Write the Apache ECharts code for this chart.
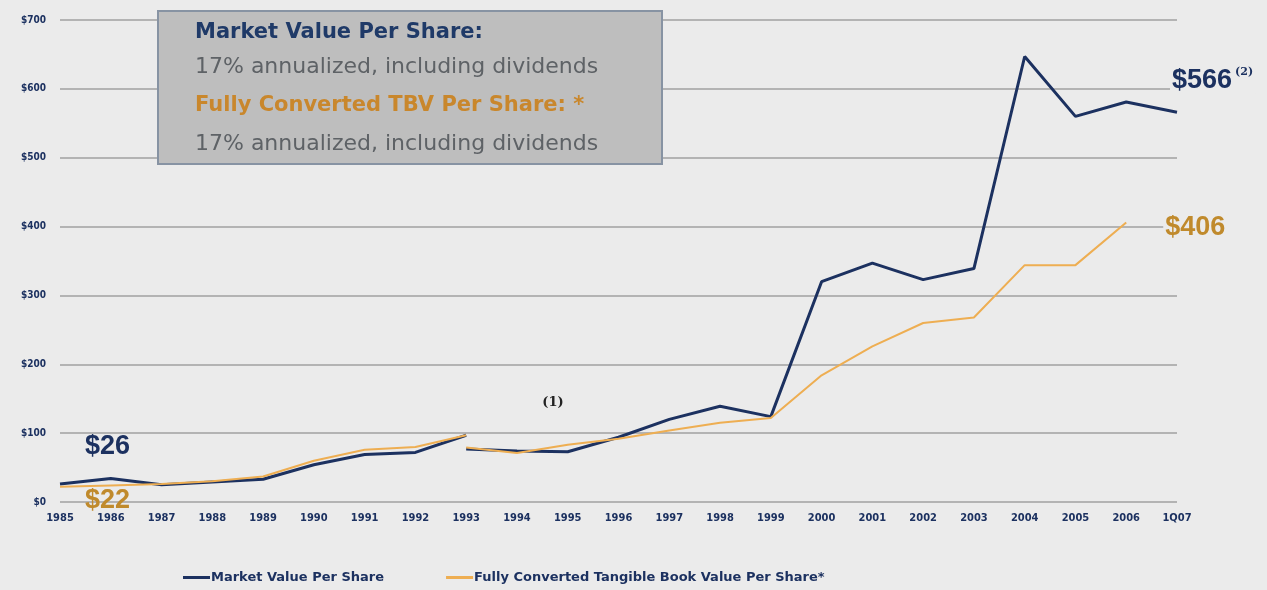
<!DOCTYPE html>
<html>
<head>
<meta charset="utf-8">
<script src="https://cdn.jsdelivr.net/npm/echarts@6/dist/echarts.min.js"></script>
<style>
html,body{margin:0;padding:0;background:#ebebeb;}
#chart{width:1267px;height:590px;}
</style>
</head>
<body>
<div id="chart"></div>
<script>
const categories = ['1985','1986','1987','1988','1989','1990','1991','1992','1993','1994','1995','1996','1997','1998','1999','2000','2001','2002','2003','2004','2005','2006','1Q07'];
const yTicks = [0,100,200,300,400,500,600,700];
// Market value per share: 1985-1993, then restated series 1993-1Q07
const marketPre1993 = [26,34,25,29,33,54,69,72,97];
const marketPost1993 = [77,74,73,94,120,139,124,320,347,323,339,647,560,581,566];
// Fully converted TBV per share: 1985-1993, then 1993-2006
const tbvPre1993 = [22,24,26,30,37,60,76,80,97];
const tbvPost1993 = [79,71,83,92,104,115,122,184,226,260,268,344,344,406];

const NAVY = '#1c3160';
const ORANGE = '#eeae52';
const ORANGE_TXT = '#c08a2c';
const BG = '#ebebeb';
const MV = 'Market Value Per Share';
const TBV = 'Fully Converted Tangible Book Value Per Share*';
const NARROW = '"DejaVu Sans Condensed", "Liberation Sans Narrow", "DejaVu Sans", sans-serif';

function pad(arr, before, total){
  const out = [];
  for (let i=0;i<total;i++){
    const j = i - before;
    out.push(j>=0 && j<arr.length ? arr[j] : null);
  }
  return out;
}
const N = categories.length;
const breakIdx = categories.indexOf('1993');

function withLabel(data, idx, label){
  return data.map((v,i)=> i===idx ? {value:v, label:label} : v);
}

const bigFont = {fontFamily:'"Liberation Sans", Arial, sans-serif', fontWeight:'bold', fontSize:27};

const mvA = withLabel(pad(marketPre1993,0,N), 0, Object.assign({show:true, position:'right', offset:[20,-38], color:NAVY, formatter:'$'+marketPre1993[0]}, bigFont));
const mvB = withLabel(pad(marketPost1993, breakIdx, N), N-1, {show:true, position:'right', offset:[-12,-32], backgroundColor:BG, padding:[0,2,0,2],
  formatter:'{a|$'+marketPost1993[marketPost1993.length-1]+'}{b|(2)}',
  rich:{a:Object.assign({color:NAVY}, bigFont), b:{color:NAVY, fontFamily:'DejaVu Serif', fontWeight:'bold', fontSize:11, verticalAlign:'top', padding:[0,0,14,3]}}});
const tbA = withLabel(pad(tbvPre1993,0,N), 0, Object.assign({show:true, position:'right', offset:[20,14], color:ORANGE_TXT, formatter:'$'+tbvPre1993[0]}, bigFont));
const lastTb = breakIdx + tbvPost1993.length - 1;
const tbB = withLabel(pad(tbvPost1993, breakIdx, N), lastTb, Object.assign({show:true, position:'right', offset:[32,5], color:ORANGE_TXT, backgroundColor:BG, padding:[0,2,0,2], formatter:'$'+tbvPost1993[tbvPost1993.length-1]}, bigFont));

function lineSeries(name, data, color, width, z){
  return {type:'line', name:name, data:data, showSymbol:true, symbol:'circle', symbolSize:0, connectNulls:false,
    lineStyle:{color:color, width:width}, itemStyle:{color:color}, z:z, silent:true, animation:false,
    label:{show:false}};
}

const chart = echarts.init(document.getElementById('chart'));
chart.setOption({
  backgroundColor: BG,
  animation:false,
  grid:{left:60, right:90, top:20, bottom:88},
  legend:{
    data:[{name:MV},{name:TBV}],
    left:178, top:566, itemWidth:27, itemHeight:3, itemGap:62, icon:'rect',
    textStyle:{color:NAVY, fontFamily:'DejaVu Sans', fontWeight:'bold', fontSize:13, padding:[0,0,0,-4]}
  },
  xAxis:{type:'category', data:categories, boundaryGap:false,
    axisLine:{show:false}, axisTick:{show:false},
    axisLabel:{color:NAVY, fontFamily:NARROW, fontWeight:'bold', fontSize:11, margin:11, interval:0}},
  yAxis:{type:'value', min:yTicks[0], max:yTicks[yTicks.length-1], interval:100,
    axisLine:{show:false}, axisTick:{show:false},
    splitLine:{lineStyle:{color:'#b3b3b3', width:2}},
    axisLabel:{color:NAVY, fontFamily:NARROW, fontWeight:'bold', fontSize:10, margin:14, formatter:v=>'$'+v}},
  series:[
    lineSeries(TBV, tbA, ORANGE, 2, 3),
    lineSeries(TBV, tbB, ORANGE, 2, 3),
    lineSeries(MV, mvA, NAVY, 3, 2),
    lineSeries(MV, mvB, NAVY, 3, 2)
  ],
  graphic:[
    {type:'rect', left:157, top:10, shape:{width:504, height:153}, style:{fill:'#bebebe', stroke:'#8793a3', lineWidth:2}, z:10},
    {type:'text', z:11, style:{x:195, y:33, verticalAlign:'middle', text:'Market Value Per Share:', fill:'#1f3a68', font:'bold 21px "DejaVu Sans"'}},
    {type:'text', z:11, style:{x:195, y:67, verticalAlign:'middle', text:'17% annualized, including dividends', fill:'#5e6266', font:'22px "DejaVu Sans"'}},
    {type:'text', z:11, style:{x:195, y:106, verticalAlign:'middle', text:'Fully Converted TBV Per Share: *', fill:'#c9872c', font:'bold 21px "DejaVu Sans"'}},
    {type:'text', z:11, style:{x:195, y:144, verticalAlign:'middle', text:'17% annualized, including dividends', fill:'#5e6266', font:'22px "DejaVu Sans"'}},
    {type:'text', z:11, style:{x:553, y:403, align:'center', verticalAlign:'middle', text:'(1)', fill:'#222', font:'bold 13px "DejaVu Serif"'}}
  ]
});
</script>
</body>
</html>
